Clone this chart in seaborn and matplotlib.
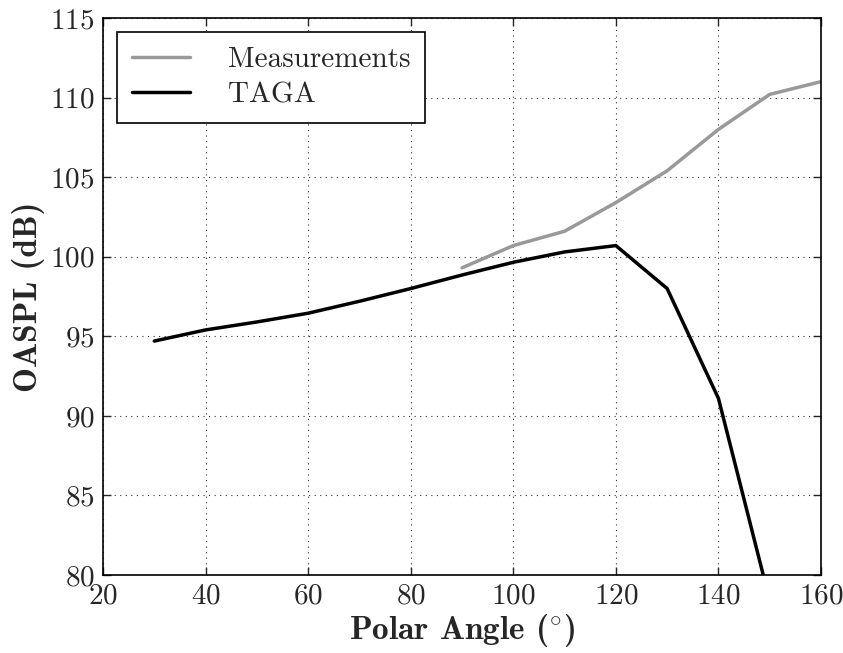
import matplotlib
matplotlib.use("Agg")
import matplotlib.pyplot as plt
import seaborn as sns
import pandas as pd

meas_angle = [90, 100, 110, 120, 130, 140, 150, 160]
meas_oaspl = [99.3, 100.7, 101.6, 103.4, 105.4, 108.0, 110.2, 111.0]
taga_angle = [30, 40, 50, 60, 70, 80, 90, 100, 110, 120, 130, 140, 150]
taga_oaspl = [94.7, 95.4, 95.9, 96.45, 97.2, 98.0, 98.85, 99.65, 100.3, 100.7, 98.0, 91.1, 78.4]

sns.set_style("ticks")
plt.rcParams["font.family"] = ["cmr10", "DejaVu Serif"]
plt.rcParams["mathtext.fontset"] = "cm"
plt.rcParams["axes.unicode_minus"] = False
plt.rcParams["axes.formatter.use_mathtext"] = True

df = pd.concat([
    pd.DataFrame({"angle": meas_angle, "oaspl": meas_oaspl, "series": "Measurements"}),
    pd.DataFrame({"angle": taga_angle, "oaspl": taga_oaspl, "series": "TAGA"}),
])

fig = plt.figure(figsize=(8.43, 6.53), dpi=100)
ax = fig.add_axes([103/843, 1-575/653, (821-103)/843, (575-18)/653])
sns.lineplot(data=df, x="angle", y="oaspl", hue="series",
             palette={"Measurements": "#999999", "TAGA": "black"},
             linewidth=2.5, ax=ax, estimator=None, sort=False)

ax.set_xlim(20, 160)
ax.set_ylim(80, 115)
ax.set_xticks(range(20, 161, 20))
ax.set_yticks(range(80, 116, 5))
ax.grid(True, linestyle=(0, (1, 4)), color="black", linewidth=0.8, alpha=0.8)
ax.tick_params(direction="in", top=True, right=True, length=6, width=1,
               labelsize=21, pad=6)
for s in ax.spines.values():
    s.set_linewidth(1.2)
    s.set_color("black")
ax.set_xlabel(r"Polar Angle ($^{\circ}$)", fontsize=24, fontfamily=["cmb10", "DejaVu Serif"], labelpad=2)
ax.set_ylabel("OASPL (dB)", fontsize=24, fontfamily=["cmb10", "DejaVu Serif"], labelpad=4)

leg = ax.legend(loc="upper left", fontsize=21, frameon=True, fancybox=False,
                edgecolor="black", framealpha=1, handlelength=2.0,
                borderpad=0.5, labelspacing=0.3, handletextpad=1.3,
                bbox_to_anchor=(0.02, 0.975), borderaxespad=0.0)
leg.get_frame().set_linewidth(1.2)
for t in leg.get_texts():
    t.set_fontfamily(["cmr10", "DejaVu Serif"])

fig.savefig("out.png", dpi=100)
